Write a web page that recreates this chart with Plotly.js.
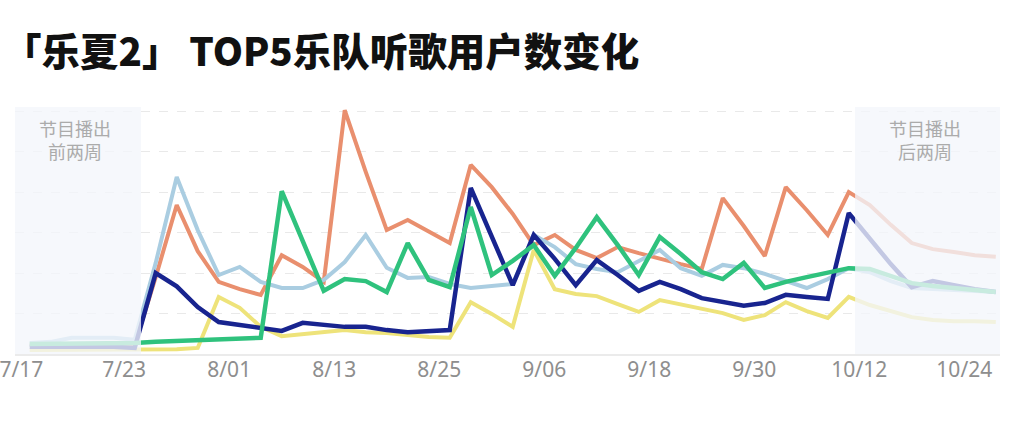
<!DOCTYPE html>
<html>
<head>
<meta charset="utf-8">
<script src="https://cdn.plot.ly/plotly-3.0.1.min.js"></script>
<style>
  html, body { margin: 0; padding: 0; background: #fff; }
  #chart { width: 1016px; height: 440px; }
</style>
</head>
<body>
<div id="chart"></div>
<script>
// Listening users of the top-5 bands over the show's run (no y labels in the source).
// One point per step; the shaded ends are the two weeks before / after broadcast.

const pointIdx = [0, 1, 2, 3, 4, 5, 6, 7, 8, 9, 10, 11, 12, 13, 14, 15, 16, 17, 18, 19, 20, 21, 22, 23,
  24, 25, 26, 27, 28, 29, 30, 31, 32, 33, 34, 35, 36, 37, 38, 39, 40, 41, 42, 43, 44, 45, 46];

const tickPos = [-0.4, 4.5, 9.5, 14.5, 19.5, 24.5, 29.5, 34.5, 39.5, 44.5];
const tickLabels = ['7/17', '7/23', '8/01', '8/13', '8/25', '9/06', '9/18', '9/30', '10/12', '10/24'];

const bandYellow = [1.0, 1.0, 1.0, 1.0, 1.0, 1.0, 1.0, 1.2, 1.5, 14.1, 11.4, 6.7, 4.4, 4.9, 5.4, 5.9,
  5.4, 5.2, 4.7, 4.2, 4.0, 12.8, 9.9, 6.7, 25.7, 16.0, 14.8, 14.3, 12.3, 10.4, 13.3, 12.3, 11.1, 10.1,
  8.4, 9.6, 12.8, 10.6, 8.9, 14.1, 12.1, 10.6, 9.1, 8.4, 8.1, 8.1, 7.9];

const bandOrange = [2.2, 2.2, 2.2, 2.2, 2.2, 2.2, 19.0, 36.8, 25.4, 17.8, 16.0, 14.6, 24.4, 21.5, 17.8,
  60.2, 45.0, 30.6, 33.1, 30.3, 27.4, 46.7, 41.2, 34.6, 26.9, 29.4, 25.7, 23.7, 26.4, 24.9, 23.5, 22.2,
  21.0, 38.5, 31.6, 24.2, 41.2, 35.5, 29.4, 40.0, 36.8, 31.9, 27.4, 25.9, 25.2, 24.4, 24.0];

const bandLightBlue = [2.7, 3.0, 4.0, 4.0, 4.0, 3.5, 22.5, 43.7, 30.6, 19.5, 21.5, 17.8, 16.3, 16.3,
  18.3, 22.7, 29.4, 21.3, 18.8, 19.0, 17.3, 16.3, 16.8, 17.3, 29.4, 26.4, 22.2, 21.0, 20.2, 23.0, 25.7,
  21.2, 19.3, 22.0, 21.2, 19.8, 18.0, 16.3, 18.5, 21.2, 20.2, 18.0, 16.3, 16.0, 15.8, 15.6, 15.3];

const bandNavy = [1.8, 1.8, 1.8, 1.8, 1.8, 1.5, 20.0, 16.7, 11.6, 7.9, 7.2, 6.4, 5.7, 7.7, 7.2, 6.7,
  6.7, 5.9, 5.4, 5.7, 5.9, 41.0, 29.0, 17.0, 29.4, 23.5, 17.0, 23.2, 19.5, 15.6, 17.8, 16.0, 13.8, 12.8,
  11.9, 12.6, 14.6, 14.1, 13.6, 34.8, 28.6, 22.2, 16.5, 18.0, 17.0, 16.0, 15.3];

const bandGreen = [2.5, 2.5, 2.5, 2.5, 2.5, 2.7, 3.0, 3.2, 3.5, 3.5, 3.7, 4.0, 40.2, 27.9, 15.6, 18.5,
  18.0, 15.3, 27.4, 18.3, 16.5, 36.3, 19.5, 23.0, 26.9, 19.3, 26.2, 33.8, 26.9, 19.5, 28.9, 24.7, 20.2,
  18.5, 22.5, 16.3, 17.8, 19.0, 20.2, 21.2, 21.0, 19.3, 17.5, 16.8, 16.3, 15.8, 15.3];

// shaded windows, in point-index units
const preWindow = [-0.7, 5.3];
const postWindow = [39.3, 46.2];

function bandTrace(name, values, color, width) {
  return {
    x: pointIdx,
    y: values,
    name: name,
    type: 'scatter',
    mode: 'lines',
    line: { color: color, width: width, shape: 'linear' },
    hoverinfo: 'skip',
    showlegend: false
  };
}

const traces = [
  bandTrace('乐队5', bandYellow, '#eee37a', 4),
  bandTrace('乐队2', bandOrange, '#e98f6e', 4),
  bandTrace('乐队3', bandLightBlue, '#aacde1', 4),
  bandTrace('乐队1', bandNavy, '#18248f', 4.5),
  bandTrace('乐队4', bandGreen, '#2fc27d', 4.5)
];

const shadeFill = 'rgba(243,246,251,0.78)';
const noteFont = { family: 'Noto Sans CJK SC, sans-serif', size: 18, color: '#ababab' };

const layout = {
  width: 1016,
  height: 440,
  paper_bgcolor: '#ffffff',
  plot_bgcolor: '#ffffff',
  margin: { l: 15, r: 16, t: 107, b: 86, pad: 0 },
  xaxis: {
    range: [preWindow[0], postWindow[1]],
    tickmode: 'array',
    tickvals: tickPos,
    ticktext: tickLabels,
    ticks: '',
    showgrid: false,
    zeroline: false,
    showline: true,
    linecolor: '#ebebeb',
    linewidth: 1.5,
    ticklabeloverflow: 'allow',
    ticklabelstandoff: -4,
    tickfont: { family: 'Noto Sans, sans-serif', size: 21, color: '#8e8e8e' },
    fixedrange: true
  },
  yaxis: {
    range: [0, 61],
    tickvals: [10, 20, 30, 40, 50, 60],
    showticklabels: false,
    ticks: '',
    showgrid: true,
    gridcolor: '#e9e9e9',
    gridwidth: 1,
    griddash: 'dash',
    zeroline: false,
    showline: false,
    fixedrange: true
  },
  shapes: [
    {
      type: 'rect', layer: 'above', xref: 'x', yref: 'paper',
      x0: preWindow[0], x1: preWindow[1], y0: 0, y1: 1,
      fillcolor: shadeFill, line: { width: 0 }
    },
    {
      type: 'rect', layer: 'above', xref: 'x', yref: 'paper',
      x0: postWindow[0], x1: postWindow[1], y0: 0, y1: 1,
      fillcolor: shadeFill, line: { width: 0 }
    }
  ],
  annotations: [
    {
      // chart title, set as a free annotation starting at the left edge of the page
      text: '「乐夏2」 TOP5乐队听歌用户数变化',
      xref: 'paper', yref: 'paper',
      x: -0.0142, xanchor: 'left',
      y: 1.235, yanchor: 'middle',
      showarrow: false,
      font: { family: 'Noto Sans CJK SC, sans-serif', size: 38.5, weight: 900, color: '#111111' }
    },
    {
      text: '节目播出<br>前两周', xref: 'x', yref: 'paper',
      x: 2.15, y: 0.975, yanchor: 'top', showarrow: false,
      font: noteFont, align: 'center'
    },
    {
      text: '节目播出<br>后两周', xref: 'x', yref: 'paper',
      x: 42.65, y: 0.975, yanchor: 'top', showarrow: false,
      font: noteFont, align: 'center'
    }
  ]
};

Plotly.newPlot('chart', traces, layout, { displayModeBar: false, staticPlot: true });
</script>
</body>
</html>
